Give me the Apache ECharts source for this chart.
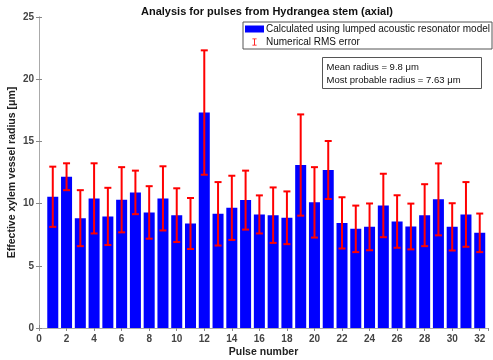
<!DOCTYPE html>
<html>
<head>
<meta charset="utf-8">
<script src="https://cdn.jsdelivr.net/npm/echarts@6/dist/echarts.min.js"></script>
<style>
  html, body { margin: 0; padding: 0; background: #fff; }
  #chart { width: 493px; height: 360px; }
</style>
</head>
<body>
<div id="chart"></div>
<script>
// pulse index and values
const pulses = [1, 2, 3, 4, 5, 6, 7, 8, 9, 10, 11, 12, 13, 14, 15, 16,
  17, 18, 19, 20, 21, 22, 23, 24, 25, 26, 27, 28, 29, 30, 31, 32]
const radius = [10.55, 12.16, 8.83, 10.42, 8.97, 10.31, 10.9, 9.29, 10.42, 9.07, 8.4, 17.32,
  9.18, 9.66, 10.28, 9.13, 9.07, 8.86, 13.1, 10.1, 12.7, 8.45, 7.97, 8.13,
  9.85, 8.56, 8.16, 9.07, 10.34, 8.13, 9.13, 7.65]
const rmsError = [2.42, 1.08, 2.25, 2.82, 2.3, 2.62, 1.75, 2.11, 2.58, 2.16, 2.05, 5.0,
  2.55, 2.58, 2.37, 1.53, 2.23, 2.12, 4.07, 2.83, 2.33, 2.06, 1.87, 1.88,
  2.55, 2.11, 1.84, 2.49, 2.89, 1.9, 2.6, 1.55]
const xTicks = [0, 32.6, 2]
const yTicks = [0, 25, 5]

const BAR_NAME = 'Calculated using lumped acoustic resonator model'
const ERR_NAME = 'Numerical RMS error'
const FONT = 'Liberation Sans'

const barData = pulses.map((p, i) => [p, radius[i]])
const errData = pulses.map((p, i) => [p, radius[i] - rmsError[i], radius[i] + rmsError[i]])

const axisLine = { show: true, lineStyle: { color: '#aaa', width: 1 } }
const tick = { show: true, inside: true, length: 3, lineStyle: { color: '#888' } }
const tickLabel = { fontFamily: FONT, fontSize: 10, color: '#444', fontWeight: 'bold' }

const chart = echarts.init(document.getElementById('chart'))
chart.setOption({
  animation: false,
  backgroundColor: '#fff',
  title: {
    text: 'Analysis for pulses from Hydrangea stem (axial)',
    left: 136,
    top: 1,
    textStyle: { fontFamily: FONT, fontSize: 11, fontWeight: 'bold', color: '#111' }
  },
  grid: { left: 39, right: 5, top: 17, bottom: 32, outerBoundsMode: 'none', containLabel: false },
  legend: {
    orient: 'vertical',
    left: 243,
    top: 22,
    padding: [2, 2, 2, 2],
    itemGap: 3,
    itemWidth: 19,
    itemHeight: 7,
    borderColor: '#555',
    borderWidth: 1,
    backgroundColor: '#fff',
    textStyle: { fontFamily: FONT, fontSize: 10, color: '#111', padding: [0, 0, 0, -3] },
    data: [
      { name: BAR_NAME, icon: 'rect' },
      { name: ERR_NAME, icon: 'path://M0,0H6V1.2H3.6V8.8H6V10H0V8.8H2.4V1.2H0Z' }
    ]
  },
  xAxis: [{
    type: 'value',
    min: xTicks[0],
    max: xTicks[1],
    interval: xTicks[2],
    name: 'Pulse number',
    nameLocation: 'middle',
    nameGap: 19,
    nameMoveOverlap: false,
    nameTextStyle: { fontFamily: FONT, fontSize: 10.5, fontWeight: 'bold', color: '#222' },
    axisLine: axisLine,
    axisTick: tick,
    splitLine: { show: false },
    axisLabel: Object.assign({ margin: 6, showMaxLabel: false }, tickLabel)
  }, {
    type: 'value',
    position: 'top',
    min: xTicks[0],
    max: xTicks[1],
    interval: xTicks[2],
    axisLine: axisLine,
    axisTick: tick,
    splitLine: { show: false },
    axisLabel: { show: false }
  }],
  yAxis: [{
    type: 'value',
    min: yTicks[0],
    max: yTicks[1],
    interval: yTicks[2],
    name: 'Effective xylem vessel radius [μm]',
    nameLocation: 'middle',
    nameGap: 21,
    nameMoveOverlap: false,
    nameTextStyle: { fontFamily: FONT, fontSize: 10.5, fontWeight: 'bold', color: '#222' },
    axisLine: axisLine,
    axisTick: tick,
    splitLine: { show: false },
    axisLabel: Object.assign({ margin: 5 }, tickLabel)
  }, {
    type: 'value',
    position: 'right',
    min: yTicks[0],
    max: yTicks[1],
    interval: yTicks[2],
    axisLine: axisLine,
    axisTick: tick,
    splitLine: { show: false },
    axisLabel: { show: false }
  }],
  graphic: [{
    type: 'group',
    left: 322,
    top: 57,
    children: [{
      type: 'rect',
      shape: { x: 0, y: 0, width: 159, height: 31 },
      style: { fill: '#fff', stroke: '#555', lineWidth: 1 }
    }, {
      type: 'text',
      x: 4,
      y: 4,
      style: {
        text: 'Mean radius = 9.8 μm\nMost probable radius = 7.63 μm',
        font: '9.5px "Liberation Sans"',
        lineHeight: 12.5,
        fill: '#111'
      }
    }]
  }],
  series: [{
    name: BAR_NAME,
    type: 'custom',
    itemStyle: { color: '#0000ff' },
    encode: { x: 0, y: 1 },
    data: barData,
    renderItem: function (params, api) {
      const x = api.value(0)
      const top = api.coord([x - 0.4, api.value(1)])
      const bottom = api.coord([x + 0.4, 0])
      return {
        type: 'rect',
        shape: { x: top[0], y: top[1], width: bottom[0] - top[0], height: bottom[1] - top[1] },
        style: { fill: '#0000ff' }
      }
    }
  }, {
    name: ERR_NAME,
    type: 'custom',
    itemStyle: { color: '#ff0000' },
    encode: { x: 0, y: [1, 2] },
    data: errData,
    z: 3,
    renderItem: function (params, api) {
      const x = api.value(0)
      const lo = api.coord([x, api.value(1)])
      const hi = api.coord([x, api.value(2)])
      const cap = 3.5
      const style = { stroke: '#ff0000', lineWidth: 2 }
      return {
        type: 'group',
        children: [
          { type: 'line', shape: { x1: lo[0], y1: lo[1], x2: hi[0], y2: hi[1] }, style: style },
          { type: 'line', shape: { x1: lo[0] - cap, y1: lo[1], x2: lo[0] + cap, y2: lo[1] }, style: style },
          { type: 'line', shape: { x1: hi[0] - cap, y1: hi[1], x2: hi[0] + cap, y2: hi[1] }, style: style }
        ]
      }
    }
  }]
})
</script>
</body>
</html>
